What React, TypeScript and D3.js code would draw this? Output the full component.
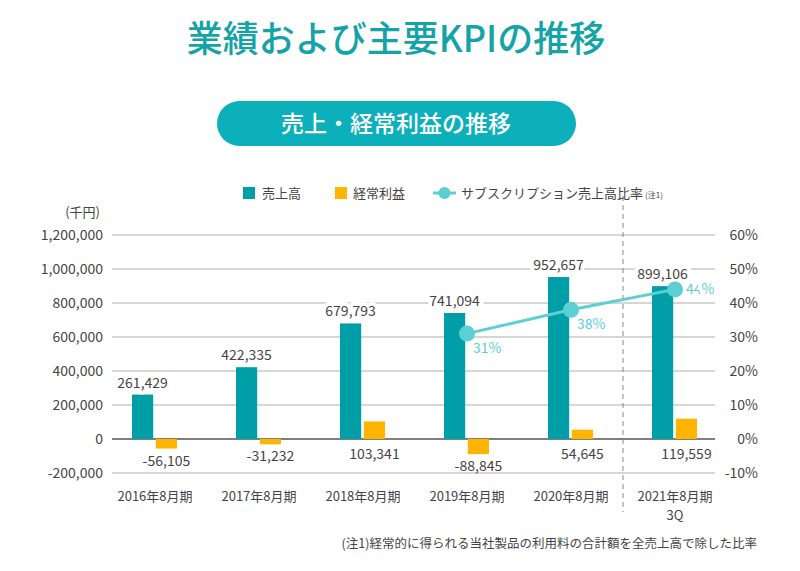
import React from "react";
import * as d3 from "d3";

const categories = ["2016年8月期", "2017年8月期", "2018年8月期", "2019年8月期", "2020年8月期", "2021年8月期\n3Q"];
const sales = [261429, 422335, 679793, 741094, 952657, 899106];
const ordinaryProfit = [-56105, -31232, 103341, -88845, 54645, 119559];
const subsRatio: (number | null)[] = [null, null, null, 31, 38, 44];
const leftTicks = [-200000, 0, 200000, 400000, 600000, 800000, 1000000, 1200000];
const rightTicks = [-10, 0, 10, 20, 30, 40, 50, 60];

const FONT = "'Noto Sans CJK JP', 'Noto Sans', sans-serif";
const TEAL = "#009fa8";
const ORANGE = "#ffb400";
const LINE = "#5ccfd3";
const TEXT = "#444";

export default function App() {
  const W = 800, H = 571;
  const gridX0 = 112, gridX1 = 715;
  const y = d3.scaleLinear().domain([-200000, 1200000]).range([473, 235]);
  const yR = d3.scaleLinear().domain([-10, 60]).range([473, 235]);
  const x = d3.scaleBand().domain(categories).range([103, 727]).padding(0);
  const sub = d3.scaleBand().domain(["s", "p"]).range([-23, 22]).paddingInner(0.11);
  const f0 = d3.format(",");
  const fmt = (v: number) => f0(v).replace("\u2212", "-");
  const cx = (c: string) => (x(c) as number) + x.bandwidth() / 2;

  const linePts = categories
    .map((c, i) => ({ c, v: subsRatio[i] }))
    .filter((d) => d.v !== null) as { c: string; v: number }[];
  const lineGen = d3.line<{ c: string; v: number }>().x((d) => cx(d.c)).y((d) => yR(d.v));

  const halo = { stroke: "#fff", strokeWidth: 8, paintOrder: "stroke" as const, strokeLinejoin: "round" as const };
  const dividerX = ((x(categories[4]) as number) + x.bandwidth() + (x(categories[5]) as number)) / 2;

  return (
    <svg width={W} height={H} style={{ display: "block", position: "absolute", left: 0, top: 0, background: "#fff" }} fontFamily={FONT}>
      {/* title */}
      <text x={396} y={52} textAnchor="middle" fontSize={36} fill="#14a3a6" fontWeight={500}>業績および主要KPIの推移</text>
      <rect x={217} y={101} width={359} height={45} rx={22.5} fill="#0cb0ba" />
      <text x={396} y={132} textAnchor="middle" fontSize={23} fill="#fff" fontWeight={500}>売上・経常利益の推移</text>

      {/* legend */}
      <rect x={243} y={187} width={12} height={12} fill={TEAL} />
      <text x={262} y={198} fontSize={13} fill={TEXT}>売上高</text>
      <rect x={335} y={187} width={12} height={12} fill={ORANGE} />
      <text x={353} y={198} fontSize={13} fill={TEXT}>経常利益</text>
      <line x1={433} x2={456} y1={193} y2={193} stroke={LINE} strokeWidth={3} />
      <circle cx={444.5} cy={193} r={6} fill={LINE} />
      <text x={461} y={198} fontSize={13} fill={TEXT}>サブスクリプション売上高比率</text>
      <text x={645} y={198} fontSize={8} fill={TEXT}>(注1)</text>

      <text x={100} y={217} textAnchor="end" fontSize={13} fill={TEXT}>(千円)</text>

      {/* grid */}
      {leftTicks.map((t) => (
        <line key={t} x1={gridX0} x2={gridX1} y1={y(t)} y2={y(t)} stroke={t === 0 ? "#555" : "#c8c8c8"} strokeWidth={1.5} />
      ))}
      {leftTicks.map((t) => (
        <text key={"l" + t} x={103} y={y(t) + 5} textAnchor="end" fontSize={14} fill={TEXT}>{fmt(t)}</text>
      ))}
      {rightTicks.map((t) => (
        <text key={"r" + t} x={758} y={yR(t) + 5} textAnchor="end" fontSize={14} fill={TEXT}>{t}%</text>
      ))}

      {/* divider */}
      <line x1={dividerX} x2={dividerX} y1={196} y2={512} stroke="#888" strokeWidth={1} strokeDasharray="5,4" />

      {/* bars */}
      {categories.map((c, i) => {
        const bx = cx(c) + (sub("s") as number);
        const top = y(Math.max(0, sales[i]));
        return <rect key={"s" + i} x={bx} y={top} width={sub.bandwidth()} height={y(0) - top} fill={TEAL} />;
      })}
      {categories.map((c, i) => {
        const bx = cx(c) + (sub("p") as number);
        const v = ordinaryProfit[i];
        const top = y(Math.max(0, v));
        const h = Math.abs(y(v) - y(0));
        return <rect key={"p" + i} x={bx} y={top} width={sub.bandwidth()} height={h} fill={ORANGE} />;
      })}

      {/* bar labels */}
      {categories.map((c, i) => (
        <text key={"sl" + i} x={cx(c) + (sub("s") as number) + sub.bandwidth() / 2} y={y(sales[i]) - 7} textAnchor="middle" fontSize={14} fill={TEXT} {...halo}>{fmt(sales[i])}</text>
      ))}
      {categories.map((c, i) => {
        const v = ordinaryProfit[i];
        const base = v < 0 ? y(v) + 17 : y(0) + 20;
        return (
          <text key={"pl" + i} x={cx(c) + (sub("p") as number) + sub.bandwidth() / 2} y={base} textAnchor="middle" fontSize={14} fill={TEXT}>{fmt(v)}</text>
        );
      })}

      {/* line */}
      <path d={lineGen(linePts) || ""} fill="none" stroke={LINE} strokeWidth={3} />
      {linePts.map((d, i) => {
        const last = i === linePts.length - 1;
        return (
          <text key={"ll" + i} x={cx(d.c) + (last ? 11 : 6)} y={yR(d.v) + (last ? 5 : 19)} fontSize={14} fill={LINE} {...(last ? halo : {})}>{d.v}%</text>
        );
      })}
      {linePts.map((d, i) => (
        <circle key={"c" + i} cx={cx(d.c)} cy={yR(d.v)} r={8} fill={LINE} />
      ))}

      {/* category labels */}
      {categories.map((c) =>
        c.split("\n").map((s, j) => (
          <text key={"x" + c + j} x={cx(c)} y={501 + j * 19} textAnchor="middle" fontSize={13} fill={TEXT}>{s}</text>
        ))
      )}

      {/* footnote */}
      <text x={757} y={548} textAnchor="end" fontSize={12.5} fill={TEXT}>(注1)経常的に得られる当社製品の利用料の合計額を全売上高で除した比率</text>
    </svg>
  );
}
